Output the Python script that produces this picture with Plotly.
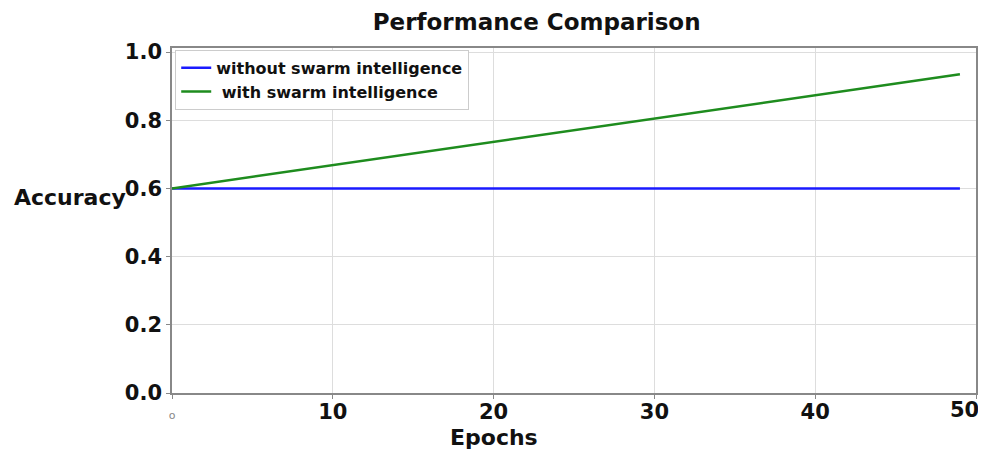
import plotly.graph_objects as go

epochs_without = [0, 49]
acc_without = [0.6, 0.6]
epochs_with = [0, 10, 20, 30, 40, 49]
acc_with = [0.6, 0.668, 0.736, 0.804, 0.872, 0.935]

x_tickvals = [0, 10, 20, 30, 40, 50]
x_ticktext = ['<span style="font-size:11px;color:#888;font-weight:normal">o</span>', '10', '20', '30', '40', '']
last_x_tick = '50'
y_tickvals = [0.0, 0.2, 0.4, 0.6, 0.8, 1.0]
y_ticktext = ['0.0', '0.2', '0.4', '0.6', '0.8', '1.0']

fig = go.Figure()
fig.add_trace(go.Scatter(x=epochs_without, y=acc_without, mode='lines',
                         name='without swarm intelligence',
                         line=dict(color='#1a1aff', width=2.5)))
fig.add_trace(go.Scatter(x=epochs_with, y=acc_with, mode='lines',
                         name=' with swarm intelligence',
                         line=dict(color='#1e8c1e', width=2.5)))

fig.update_layout(
    width=970, height=443,
    margin=dict(l=164, r=2, t=40, b=58, autoexpand=False),
    paper_bgcolor='white', plot_bgcolor='white',
    title=dict(text='<b>Performance Comparison</b>', x=0.545, xanchor='center',
               y=0.968, yanchor='middle',
               font=dict(family='DejaVu Sans', size=23, color='#111')),
    font=dict(family='DejaVu Sans', color='#111'),
    showlegend=True,
    legend=dict(x=0.004, y=0.995, xanchor='left', yanchor='top',
                bgcolor='white', bordercolor='#cccccc', borderwidth=1,
                font=dict(family='DejaVu Sans', size=16, color='#111', weight='bold'),
                tracegroupgap=0, itemwidth=30),
    xaxis=dict(range=[0, 50], tickvals=x_tickvals, ticktext=x_ticktext,
               tickfont=dict(family='DejaVu Sans', size=21, color='#111', weight='bold'),
               ticklabelstandoff=-5,
               showgrid=True, gridcolor='#dddddd', gridwidth=1, automargin=False,
               showline=True, linecolor='#888888', linewidth=1.5, mirror=True,
               ticks='outside', ticklen=4, tickcolor='#888888', zeroline=False),
    yaxis=dict(range=[0, 1.012], tickvals=y_tickvals, ticktext=y_ticktext,
               tickfont=dict(family='DejaVu Sans', size=21, color='#111', weight='bold'),
               showgrid=True, gridcolor='#dddddd', gridwidth=1, automargin=False,
               showline=True, linecolor='#888888', linewidth=1.5, mirror=True,
               ticks='outside', ticklen=4, tickcolor='#888888', zeroline=False),
    annotations=[
        dict(text='<b>' + last_x_tick + '</b>', xref='x', yref='paper', x=49.3, y=-0.05,
             xanchor='center', yanchor='middle', showarrow=False,
             font=dict(family='DejaVu Sans', size=21, color='#111')),
        dict(text='<b>Epochs</b>', xref='paper', yref='paper', x=0.4, y=-0.128,
             xanchor='center', yanchor='middle', showarrow=False,
             font=dict(family='DejaVu Sans', size=22, color='#111')),
        dict(text='<b>Accuracy</b>', xref='paper', yref='paper', x=-0.127, y=0.568,
             xanchor='center', yanchor='middle', showarrow=False,
             font=dict(family='DejaVu Sans', size=22, color='#111')),
    ],
)

fig.write_html('out.html')
